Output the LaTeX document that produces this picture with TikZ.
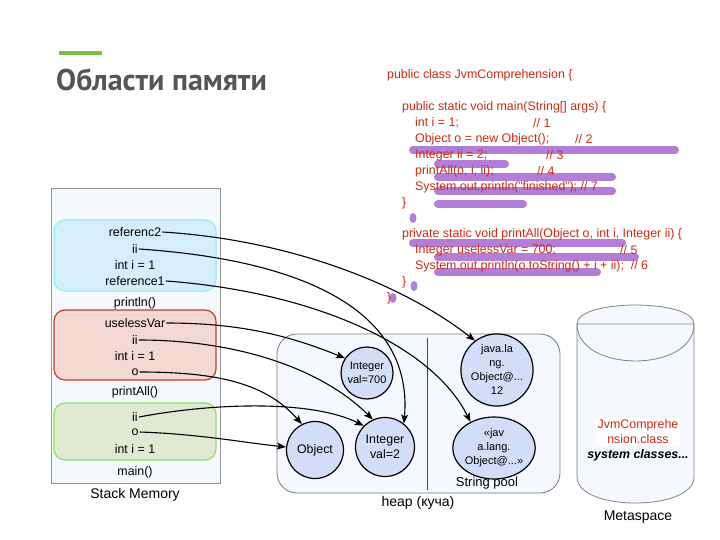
\documentclass[tikz,border=0pt]{standalone}
\usepackage{fontspec}
\setmainfont{Liberation Sans}
\newfontfamily\titlefont{PT Sans}
\usetikzlibrary{arrows.meta,shapes.geometric}
\definecolor{codered}{RGB}{205,42,18}
\definecolor{hlpurple}{RGB}{178,126,216}
\definecolor{titlegray}{RGB}{85,85,85}
\definecolor{barGreen}{RGB}{122,190,70}
\definecolor{paleblue}{RGB}{245,249,255}
\definecolor{cyanfill}{RGB}{212,238,252}
\definecolor{cyanline}{RGB}{140,236,246}
\definecolor{redfill}{RGB}{245,215,212}
\definecolor{redline}{RGB}{200,62,32}
\definecolor{greenfill}{RGB}{225,233,210}
\definecolor{greenline}{RGB}{140,226,90}
\definecolor{objfill}{RGB}{212,221,247}
\tikzset{
  codeline/.style={anchor=west,inner sep=0pt,text=codered,font=\fontsize{12.4}{14}\selectfont},
  hl/.style={draw=hlpurple,line width=8pt,line cap=round},
  hldot/.style={fill=hlpurple},
  stacktxt/.style={inner sep=1pt,font=\fontsize{12.4}{14}\selectfont},
  lbl/.style={inner sep=0pt,font=\fontsize{12.4}{14}\selectfont},
  biglbl/.style={inner sep=0pt,font=\fontsize{14}{16}\selectfont},
  obj/.style={circle,draw=black,line width=1.2pt,fill=objfill,align=center,inner sep=0pt},
  conn/.style={draw=black,line width=1.1pt,-{Stealth[length=9pt,width=7pt,inset=2pt]}},
}
\begin{document}
\begin{tikzpicture}[x=1pt,y=-1pt]
\useasboundingbox (0,0) rectangle (720,540);
\fill[white] (0,0) rectangle (720,540);
% title
\draw[barGreen,line width=4pt] (59,53) -- (102,53);
\node[anchor=west,inner sep=0pt,text=titlegray,font=\titlefont\bfseries\fontsize{30}{34}\selectfont] (title) at (56,80) {Области памяти};
% highlights
\draw[hl] (413,150) -- (675,150);
\draw[hl] (438,164) -- (505,164);
\draw[hl] (438,177) -- (612,177);
\draw[hl] (438,191) -- (612,191);
\draw[hl] (438,204) -- (523,204);
\fill[hldot] (413,218) ellipse[x radius=3.5pt,y radius=5pt];
\draw[hl] (413,243) -- (622,243);
\draw[hl] (438,257) -- (635,257);
\draw[hl] (438,272) -- (597,272);
\fill[hldot] (414,286) ellipse[x radius=3.5pt,y radius=5pt];
\fill[hldot] (393,298) ellipse[x radius=3.5pt,y radius=5pt];
% code
\node[codeline] (c1) at (387,75) {public class JvmComprehension \{};
\node[codeline] (c2) at (402,107) {public static void main(String[] args) \{};
\node[codeline] (c3) at (415,123) {int i = 1;};
\node[codeline] (c3c) at (533,123) {// 1};
\node[codeline] (c4) at (415,139) {Object o = new Object();};
\node[codeline] (c4c) at (575,139) {// 2};
\node[codeline] (c5) at (415,155) {Integer ii = 2;};
\node[codeline] (c5c) at (546,155) {// 3};
\node[codeline] (c6) at (415,171) {printAll(o, i, ii);};
\node[codeline] (c6c) at (537,171) {// 4};
\node[codeline] (c7) at (415,187) {System.out.println("finished"); // 7};
\node[codeline] (c8) at (402,203) {\}};
\node[codeline] (c9) at (402,234) {private static void printAll(Object o, int i, Integer ii) \{};
\node[codeline] (c10) at (415,250) {Integer uselessVar = 700;};
\node[codeline] (c10c) at (620,250) {// 5};
\node[codeline] (c11) at (415,266) {System.out.println(o.toString() + i + ii);\ \ // 6};
\node[codeline] (c12) at (402,282) {\}};
\node[codeline] (c13) at (387,298) {\}};
% stack memory
\draw[draw={rgb,255:red,150;green,150;blue,150},fill=paleblue,line width=0.8pt] (51,188) rectangle (220,483);
\draw[draw=cyanline,fill=cyanfill,line width=1pt,rounded corners=11pt] (54,220) rectangle (216,291);
\draw[draw=redline,fill=redfill,line width=1.2pt,rounded corners=11pt] (54,310) rectangle (216,380);
\draw[draw=greenline,fill=greenfill,line width=1.2pt,rounded corners=11pt] (54,403) rectangle (216,460);
\node[stacktxt] (r2) at (135,232) {referenc2};
\node[stacktxt] (iiA) at (135,249) {ii};
\node[stacktxt] (iA) at (135,265) {int i = 1};
\node[stacktxt] (r1) at (135,281) {reference1};
\node[lbl] (lprintln) at (135,303) {println()};
\node[stacktxt] (uv) at (135,323) {uselessVar};
\node[stacktxt] (iiB) at (135,340) {ii};
\node[stacktxt] (iB) at (135,356) {int i = 1};
\node[stacktxt] (oB) at (135,372) {o};
\node[lbl] (lprintall) at (135,392) {printAll()};
\node[stacktxt] (iiC) at (135,417) {ii};
\node[stacktxt] (oC) at (135,432) {o};
\node[stacktxt] (iC) at (135,449) {int i = 1};
\node[lbl] (lmain) at (135,472) {main()};
\node[biglbl] (lstack) at (135,495) {Stack Memory};
% heap
\draw[draw={rgb,255:red,120;green,120;blue,120},fill=paleblue,line width=0.8pt,rounded corners=20pt] (277,334) rectangle (560,493);
\draw[draw={rgb,255:red,70;green,70;blue,70},line width=1pt] (427,338) -- (427,490);
\node[biglbl] (lheap) at (418,503) {heap (куча)};
\node[inner sep=0pt,font=\fontsize{13}{15}\selectfont] (lpool) at (487,483) {String pool};
\node[obj,minimum size=52pt,font=\fontsize{11}{14}\selectfont] (i700) at (367,373) {Integer\\val=700};
\node[obj,minimum size=57pt,font=\fontsize{12.4}{14}\selectfont] (objc) at (315,450) {Object};
\node[obj,minimum size=59pt,font=\fontsize{12.4}{15}\selectfont] (i2) at (385,447) {Integer\\val=2};
\node[obj,minimum size=62pt,font=\fontsize{11}{14}\selectfont] (java) at (497,370) {java.la\\ng.\\Object@...\\12};
\node[ellipse,draw=black,line width=1.2pt,fill=objfill,align=center,inner sep=0pt,minimum width=67pt,minimum height=62pt,font=\fontsize{11}{14}\selectfont] (jav) at (494,448) {«jav\\a.lang.\\Object@...»};
% metaspace
\draw[draw={rgb,255:red,130;green,130;blue,130},fill=paleblue,line width=0.8pt]
  (577,324) -- (577,477) .. controls (577,511.7) and (694,511.7) .. (694,477)
  -- (694,324) .. controls (694,298.7) and (577,298.7) .. (577,324) -- cycle;
\draw[draw={rgb,255:red,130;green,130;blue,130},line width=0.8pt]
  (577,324) -- (694,324) (577,324) .. controls (577,373.3) and (694,373.3) .. (694,324);
\node[fill=white,inner sep=2pt,align=center,text=codered,font=\fontsize{12.4}{15}\selectfont] (jvmclass) at (638,432) {JvmComprehe\\nsion.class};
\node[inner sep=0pt,font=\bfseries\itshape\fontsize{12.4}{14}\selectfont] (sysc) at (638,455) {system classes...};
\node[biglbl] (lmeta) at (638,517) {Metaspace};
% connectors
\draw[conn] (r2.east) .. controls +(130,8) and +(-70,-55) .. (java.127);
\draw[conn] (iiA.east) .. controls +(150,10) and +(10,-120) .. (i2.51);
\draw[conn] (r1.east) .. controls +(140,10) and +(-40,-80) .. (jav.132);
\draw[conn] (uv.east) .. controls +(80,0) and +(-50,-20) .. (i700.146);
\draw[conn] (iiB.east) .. controls +(100,0) and +(-50,-50) .. (i2.114);
\draw[conn] (oB.east) .. controls +(80,0) and +(-35,-40) .. (objc.117);
\draw[conn] (iiC.east) .. controls +(80,-15) and +(-50,-25) .. (i2.135);
\draw[conn] (oC.east) .. controls +(60,2) and +(-40,-4) .. (objc.174);
\end{tikzpicture}
\end{document}
